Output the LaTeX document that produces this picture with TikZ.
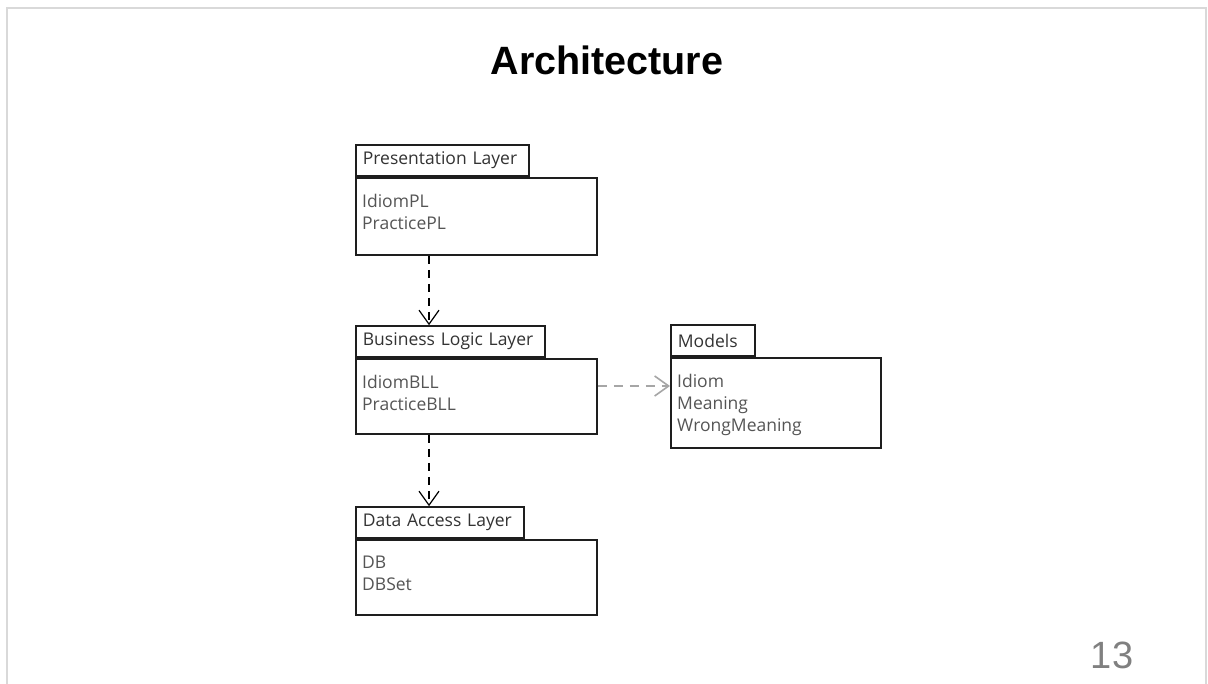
\documentclass[tikz,border=0pt]{standalone}
\usepackage{fontspec}
\setmainfont{Open Sans}
\newfontfamily\titlefont{Liberation Sans}
\usetikzlibrary{arrows.meta,calc}
\definecolor{frameclr}{HTML}{D9D9D9}
\definecolor{boxline}{HTML}{1E1E1E}
\definecolor{itemclr}{HTML}{555555}
\definecolor{tabclr}{HTML}{333333}
\definecolor{pagenum}{HTML}{808080}
\definecolor{lightdep}{HTML}{A6A6A6}
\begin{document}
\begin{tikzpicture}[x=1pt,y=-1pt,
  pkgbody/.style={draw=boxline, line width=1.8pt, fill=white, anchor=north west, inner sep=0pt},
  pkgtab/.style={draw=boxline, line width=1.8pt, fill=white, anchor=south west, inner xsep=7pt, inner ysep=0pt,
     minimum height=31pt, align=left, text=tabclr, font=\fontsize{17.5}{20}\selectfont},
  items/.style={anchor=north west, inner sep=0pt, align=left, text=itemclr, font=\fontsize{17.5}{22}\selectfont},
  depdark/.style={draw=black, line width=1.4pt, dash pattern=on 8pt off 6pt, -{Straight Barb[length=14pt,width=20pt,line width=1.2pt]}},
  deplight/.style={draw=lightdep, line width=2.2pt, dash pattern=on 9pt off 7pt, -{Straight Barb[length=14pt,width=20pt,line width=1.6pt]}},
]
\useasboundingbox (0,0) rectangle (1208,684);
\fill[white] (0,0) rectangle (1208,684);
\draw[frameclr, line width=2pt] (7,690) -- (7,8) -- (1206,8) -- (1206,690);

\node[font=\titlefont\bfseries\fontsize{39.5}{42}\selectfont] (title) at (607,60) {Architecture};
\node[font=\titlefont\fontsize{38}{40}\selectfont, text=pagenum] (num) at (1112,655) {13};

% Presentation Layer
\node[pkgbody, minimum width=241pt, minimum height=77pt] (pl) at (355,177) {};
\node[pkgtab, text width=159pt] (pltab) at (pl.north west) {\mbox{Presentation Layer}};
\node[items] (plitems) at ($(pl.north west)+(7,17)$) {IdiomPL\\PracticePL};

% Business Logic Layer
\node[pkgbody, minimum width=241pt, minimum height=75pt] (bll) at (355,358) {};
\node[pkgtab, text width=175pt] (blltab) at (bll.north west) {\mbox{Business Logic Layer}};
\node[items] (bllitems) at ($(bll.north west)+(7,17)$) {IdiomBLL\\PracticeBLL};

% Models
\node[pkgbody, minimum width=210pt, minimum height=90pt] (mod) at (670,357) {};
\node[pkgtab, text width=70pt] (modtab) at (mod.north west) {\mbox{Models}};
\node[items] (moditems) at ($(mod.north west)+(7,17)$) {Idiom\\Meaning\\WrongMeaning};

% Data Access Layer
\node[pkgbody, minimum width=241pt, minimum height=75pt] (dal) at (355,539) {};
\node[pkgtab, text width=154pt] (daltab) at (dal.north west) {\mbox{Data Access Layer}};
\node[items] (dalitems) at ($(dal.north west)+(7,17)$) {DB\\DBSet};

% dependencies
\draw[depdark] ([xshift=74pt]pl.south west) -- ([xshift=74pt]blltab.north west);
\draw[depdark] ([xshift=74pt]bll.south west) -- ([xshift=74pt]daltab.north west);
\draw[deplight] ([yshift=-28pt]bll.north east) -- ([yshift=-29pt]mod.north west);
\end{tikzpicture}
\end{document}
